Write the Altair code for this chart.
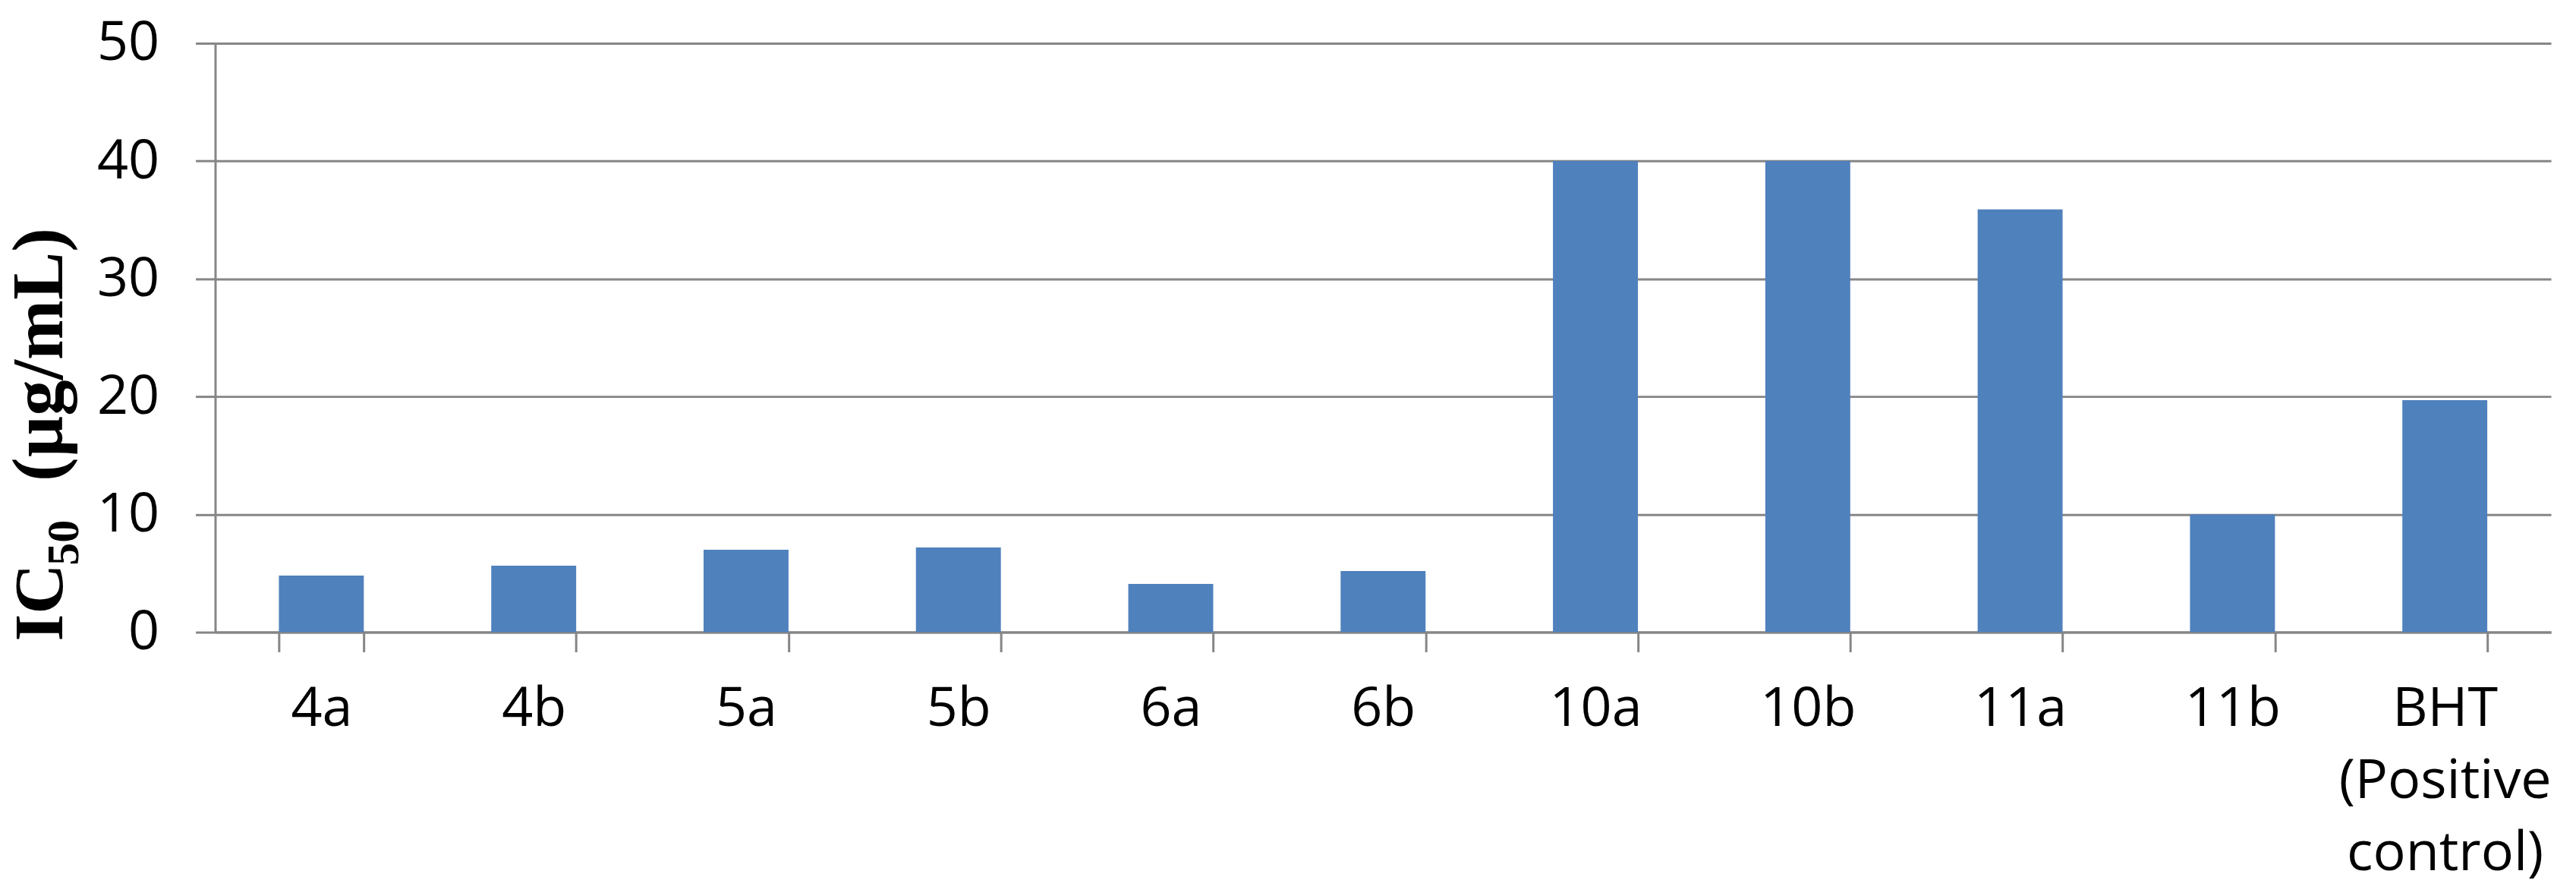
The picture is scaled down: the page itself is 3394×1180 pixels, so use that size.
import altair as alt
import pandas as pd

compounds = ["4a", "4b", "5a", "5b", "6a", "6b", "10a", "10b", "11a", "11b", "BHT (Positive control)"]
ic50 = [4.8, 5.65, 7.0, 7.2, 4.1, 5.2, 40.0, 40.0, 35.9, 10.0, 19.7]
y_ticks = [0, 10, 20, 30, 40, 50]

# y-axis title pieces: main text, subscript, unit
title_main = ["IC"]
title_sub = ["50"]
title_unit = ["(µg/mL)"]

df = pd.DataFrame({"compound": compounds, "ic50": ic50})

grey = "#868686"

bars = alt.Chart(df).mark_bar(color="#4F81BD").encode(
    x=alt.X(
        "compound:N",
        sort=compounds,
        scale=alt.Scale(paddingInner=0.6, paddingOuter=0.3),
        axis=alt.Axis(
            title=None,
            labelAngle=0,
            labelFont="Open Sans",
            labelFontSize=72,
            labelColor="black",
            labelPadding=40,
            labelBaseline="top",
            labelLineHeight=95,
            labelLimit=0,
            labelExpr="datum.value == 'BHT (Positive control)' ? ['BHT', '(Positive', 'control)'] : datum.label",
            tickBand="extent",
            tickSize=26,
            tickWidth=3,
            tickColor=grey,
            domainColor=grey,
            domainWidth=3,
            grid=False,
        ),
    ),
    y=alt.Y(
        "ic50:Q",
        scale=alt.Scale(domain=[0, 50], nice=False),
        axis=alt.Axis(
            values=y_ticks,
            title=None,
            labelFont="Open Sans",
            labelFontSize=72,
            labelColor="black",
            labelPadding=48,
            tickSize=26,
            tickWidth=3,
            tickColor=grey,
            domainColor=grey,
            domainWidth=3,
            grid=True,
            gridColor=grey,
            gridWidth=3,
        ),
    ),
)


def title_piece(texts, size, x, y):
    return alt.Chart(pd.DataFrame({"t": texts})).mark_text(
        angle=270,
        align="left",
        baseline="alphabetic",
        font="Liberation Serif",
        fontWeight="bold",
        fontSize=size,
        color="black",
    ).encode(text="t:N", x=alt.value(x), y=alt.value(y))


t_main = title_piece(title_main, 92, -202, 789)
t_sub = title_piece(title_sub, 60, -181, 689)
t_unit = title_piece(title_unit, 95, -202, 578)

chart = alt.layer(bars, t_main, t_sub, t_unit).properties(
    width=3083,
    height=777,
    padding={"left": 276, "top": 48, "right": 25, "bottom": 345},
    autosize=alt.AutoSizeParams(type="none"),
).configure_view(stroke=None)

chart.save("out.html", embed_options={"renderer": "svg", "actions": False})
